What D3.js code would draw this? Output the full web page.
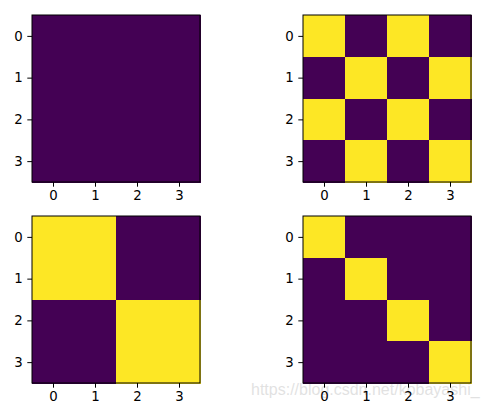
<!DOCTYPE html>
<html>
<head>
<meta charset="utf-8">
<script src="https://cdn.jsdelivr.net/npm/d3@7"></script>
<style>
html,body{margin:0;padding:0;background:#fff;}
svg{display:block;}
</style>
</head>
<body>
<script>
// Data
const ticks = [0, 1, 2, 3];
const zerosMatrix = [
  [0,0,0,0],
  [0,0,0,0],
  [0,0,0,0],
  [0,0,0,0]
];
const checkerMatrix = [
  [1,0,1,0],
  [0,1,0,1],
  [1,0,1,0],
  [0,1,0,1]
];
const blockMatrix = [
  [1,1,0,0],
  [1,1,0,0],
  [0,0,1,1],
  [0,0,1,1]
];
const identityMatrix = [
  [1,0,0,0],
  [0,1,0,0],
  [0,0,1,0],
  [0,0,0,1]
];
const watermark = "https://blog.csdn.net/kobayashi_";

const W = 488, H = 409;
const svg = d3.select("body").append("svg").attr("width", W).attr("height", H);

const panels = [
  {m: zerosMatrix, x: 32, y: 15, vmin: 0, vmax: 0},
  {m: checkerMatrix, x: 303, y: 15, vmin: 0, vmax: 1},
  {m: blockMatrix, x: 32, y: 216, vmin: 0, vmax: 1},
  {m: identityMatrix, x: 303, y: 216, vmin: 0, vmax: 1}
];
const pw = 168, ph = 167;

const color = (v, vmin, vmax) => {
  const t = vmax > vmin ? (v - vmin) / (vmax - vmin) : 0;
  return d3.interpolateViridis(t);
};

// watermark behind
svg.append("text")
  .attr("x", 251).attr("y", 395)
  .attr("font-family", "Liberation Sans, Arial, sans-serif")
  .attr("font-size", 16)
  .attr("fill", "#d8d8d8")
  .attr("fill-opacity", 0.75)
  .text(watermark);

panels.forEach(p => {
  const g = svg.append("g").attr("transform", `translate(${p.x},${p.y})`);
  const x = d3.scaleLinear().domain([-0.5, 3.5]).range([0, pw]);
  const y = d3.scaleLinear().domain([-0.5, 3.5]).range([0, ph]);
  const cells = [];
  p.m.forEach((row, i) => row.forEach((v, j) => cells.push({i, j, v})));
  g.selectAll("rect.cell").data(cells).enter().append("rect")
    .attr("class", "cell")
    .attr("x", d => x(d.j - 0.5))
    .attr("y", d => y(d.i - 0.5))
    .attr("width", d => x(d.j + 0.5) - x(d.j - 0.5) + 0.5)
    .attr("height", d => y(d.i + 0.5) - y(d.i - 0.5) + 0.5)
    .attr("fill", d => color(d.v, p.vmin, p.vmax))
    .attr("shape-rendering", "crispEdges");

  const xAxis = d3.axisBottom(x).tickValues(ticks).tickFormat(d3.format("d")).tickSize(4.7).tickPadding(4.2);
  const yAxis = d3.axisLeft(y).tickValues(ticks).tickFormat(d3.format("d")).tickSize(4.7).tickPadding(4.7);
  const gx = g.append("g").attr("transform", `translate(0,${ph})`).call(xAxis);
  const gy = g.append("g").call(yAxis);
  [gx, gy].forEach(a => {
    a.select(".domain").remove();
    a.selectAll("line").attr("stroke", "#000").attr("stroke-width", 1);
    a.selectAll("text").attr("font-family", "DejaVu Sans, sans-serif").attr("font-size", 13.3).attr("fill", "#000");
  });
  g.append("rect").attr("x", 0).attr("y", 0).attr("width", pw).attr("height", ph)
    .attr("fill", "none").attr("stroke", "#000").attr("stroke-width", 1);
});
</script>
</body>
</html>
